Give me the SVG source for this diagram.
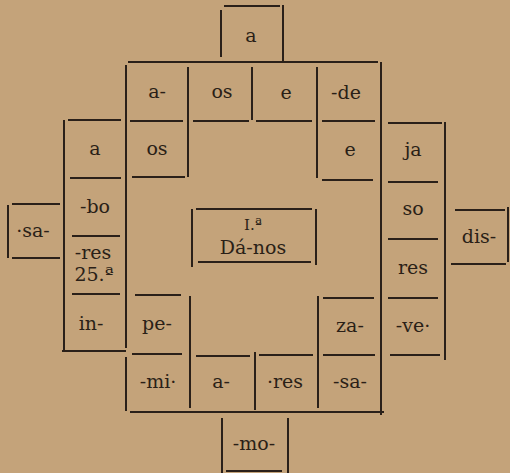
<svg xmlns="http://www.w3.org/2000/svg" width="510" height="473" viewBox="0 0 510 473">
<style>
.r{stroke:#2a2019;stroke-width:2;fill:none;stroke-linecap:butt}
.t{font-family:"DejaVu Serif","Liberation Serif",serif;font-size:19px;fill:#2a1f17;text-anchor:middle}
.s{font-size:15px}
</style>
<rect width="510" height="473" fill="#c4a37a"/>
<g id="rules" class="r">
<path d="M224,6H280M221,10V57M283,5V62"/>
<path d="M128,62H378M126,65V348M126,357V411M381,62V415M130,412H384"/>
<path d="M188,67V177M252,67V120M317,67V178"/>
<path d="M130,121H183M193,121H249M256,121H312M322,121H375M132,177H185M322,180H373"/>
<path d="M64,120V350M68,120H121M70,178H121M72,236H120M72,294H120M62,351H126"/>
<path d="M8,205V258M12,204H60M12,258H60"/>
<path d="M445,122V360M388,123H442M388,182H438M388,239H438M388,298H438M390,355H440"/>
<path d="M455,210H505M451,264H506M508,207V262"/>
<path d="M192,209V267M196,209H312M316,209V265M198,262H311"/>
<path d="M135,295H181M190,296V408M132,354H182"/>
<path d="M323,298H374M318,296V408M323,355H375M196,356H250M259,355H313M255,352V410"/>
<path d="M222,418V473M288,418V473M226,471H282"/>
</g>
<g id="n-top-a"><text class="t" x="251" y="42">a</text></g>
<g id="n-a1"><text class="t" x="157" y="98">a-</text></g>
<g id="n-os1"><text class="t" x="222" y="98">os</text></g>
<g id="n-e1"><text class="t" x="286" y="99">e</text></g>
<g id="n-de"><text class="t" x="346" y="99">-de</text></g>
<g id="n-os2"><text class="t" x="157" y="155">os</text></g>
<g id="n-e2"><text class="t" x="350" y="156">e</text></g>
<g id="n-a-left"><text class="t" x="95" y="155">a</text></g>
<g id="n-bo"><text class="t" x="95" y="213">-bo</text></g>
<g id="n-res-left"><text class="t" x="93" y="259">-res</text><text class="t" x="94" y="281">25.ª</text></g>
<g id="n-in"><text class="t" x="91" y="330">in-</text></g>
<g id="n-sa-left"><text class="t" x="33" y="237">·sa-</text></g>
<g id="n-ja"><text class="t" x="413" y="156">ja</text></g>
<g id="n-so"><text class="t" x="413" y="215">so</text></g>
<g id="n-res-right"><text class="t" x="413" y="274">res</text></g>
<g id="n-ve"><text class="t" x="413" y="332">-ve·</text></g>
<g id="n-dis"><text class="t" x="479" y="243">dis-</text></g>
<g id="n-center"><text class="t s" x="253" y="230">I.ª</text><text class="t" x="253" y="254">Dá-nos</text></g>
<g id="n-pe"><text class="t" x="157" y="330">pe-</text></g>
<g id="n-za"><text class="t" x="350" y="332">za-</text></g>
<g id="n-mi"><text class="t" x="158" y="388">-mi·</text></g>
<g id="n-a-bottom"><text class="t" x="221" y="388">a-</text></g>
<g id="n-res-bottom"><text class="t" x="285" y="388">·res</text></g>
<g id="n-sa-bottom"><text class="t" x="350" y="388">-sa-</text></g>
<g id="n-mo"><text class="t" x="254" y="450">-mo-</text></g>
</svg>
